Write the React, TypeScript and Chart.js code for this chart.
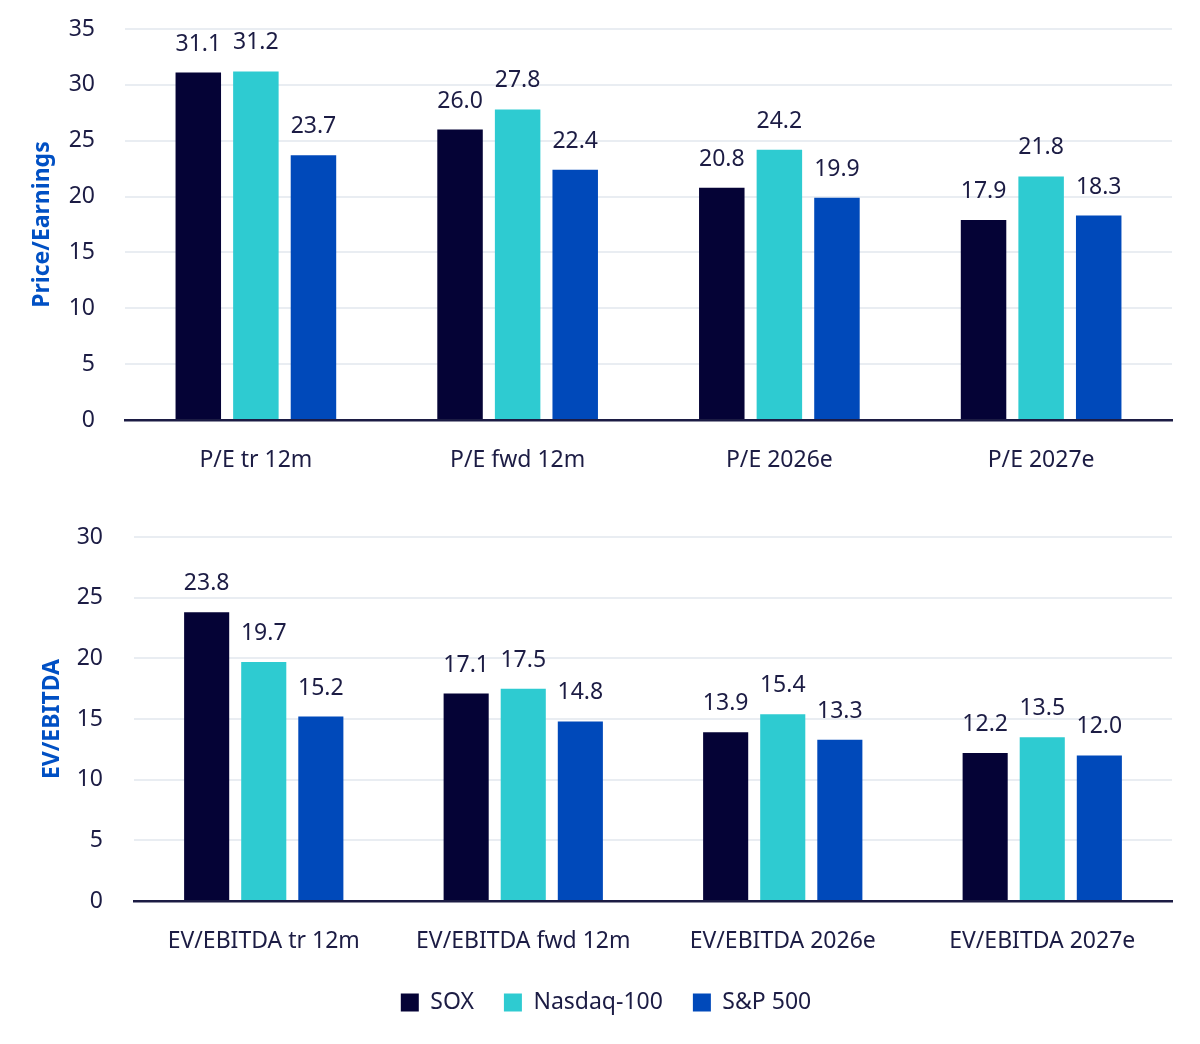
import { useEffect, useRef } from 'react'
import { Chart, registerables } from 'chart.js'

Chart.register(...registerables)

const peLabels = ['P/E tr 12m', 'P/E fwd 12m', 'P/E 2026e', 'P/E 2027e']
const evLabels = ['EV/EBITDA tr 12m', 'EV/EBITDA fwd 12m', 'EV/EBITDA 2026e', 'EV/EBITDA 2027e']

const seriesNames = ['SOX', 'Nasdaq-100', 'S&P 500']
const seriesColors = ['#050336', '#2ECBD1', '#0049BA']

const peSox = [31.1, 26.0, 20.8, 17.9]
const peNasdaq = [31.2, 27.8, 24.2, 21.8]
const peSpx = [23.7, 22.4, 19.9, 18.3]

const evSox = [23.8, 17.1, 13.9, 12.2]
const evNasdaq = [19.7, 17.5, 15.4, 13.5]
const evSpx = [15.2, 14.8, 13.3, 12.0]

const TEXT = '#1c1c44'
const FONT = '"Noto Sans", sans-serif'

const valueLabels = {
  id: 'valueLabels',
  afterDatasetsDraw(chart: any) {
    const { ctx } = chart
    ctx.save()
    ctx.font = `23px ${FONT}`
    ctx.fillStyle = TEXT
    ctx.textAlign = 'center'
    ctx.textBaseline = 'alphabetic'
    chart.data.datasets.forEach((ds: any, i: number) => {
      const meta = chart.getDatasetMeta(i)
      meta.data.forEach((bar: any, j: number) => {
        ctx.fillText(ds.data[j].toFixed(1), bar.x, bar.y - 22)
      })
    })
    ctx.restore()
  },
}

function makeConfig(
  labels: string[],
  data: number[][],
  max: number,
  title: string,
  opts: { axisWidth: number; titlePad: number; tickPad: number; padding: any; legend: boolean }
): any {
  return {
    type: 'bar',
    data: {
      labels,
      datasets: data.map((d, i) => ({
        label: seriesNames[i],
        data: d,
        backgroundColor: seriesColors[i],
        borderWidth: 0,
        categoryPercentage: 0.66,
        barPercentage: 0.79,
      })),
    },
    options: {
      animation: false,
      responsive: true,
      maintainAspectRatio: false,
      layout: { padding: opts.padding },
      scales: {
        x: {
          grid: { display: false, drawTicks: false },
          border: { display: true, color: TEXT, width: 2.5 },
          ticks: { color: TEXT, font: { family: FONT, size: 23 }, padding: 27 },
          afterFit: (scale: any) => {
            scale.height = 60
          },
        },
        y: {
          min: 0,
          max,
          ticks: { stepSize: 5, color: TEXT, font: { family: FONT, size: 23 }, padding: opts.tickPad },
          grid: { color: '#e9edf2', lineWidth: 2, drawTicks: false },
          border: { display: false },
          title: {
            display: true,
            text: title,
            color: '#0050C4',
            font: { family: FONT, size: 23, weight: 'bold' },
            padding: { top: opts.titlePad, bottom: 0 },
          },
          afterFit: (scale: any) => {
            scale.width = opts.axisWidth
            // tick padding is horizontal only; don't let it push the plot down
            scale.paddingTop = 14
            scale.paddingBottom = 14
          },
        },
      },
      plugins: {
        tooltip: { enabled: false },
        legend: {
          display: opts.legend,
          position: 'bottom',
          labels: {
            color: TEXT,
            font: { family: FONT, size: 23 },
            boxWidth: 18,
            boxHeight: 18,
            padding: 30,
          },
        },
      },
    },
    plugins: [valueLabels],
  }
}

export default function App() {
  const topRef = useRef<HTMLCanvasElement>(null)
  const bottomRef = useRef<HTMLCanvasElement>(null)

  useEffect(() => {
    const top = new Chart(
      topRef.current as any,
      makeConfig(peLabels, [peSox, peNasdaq, peSpx], 35, 'Price/Earnings', {
        axisWidth: 125,
        titlePad: 29,
        tickPad: 30,
        padding: { top: 29, right: 28, left: 0, bottom: 0 },
        legend: false,
      })
    )
    const bottom = new Chart(
      bottomRef.current as any,
      makeConfig(evLabels, [evSox, evNasdaq, evSpx], 30, 'EV/EBITDA', {
        axisWidth: 94,
        titlePad: -1,
        tickPad: 31,
        padding: { top: 57, right: 28, left: 40, bottom: 20 },
        legend: true,
      })
    )
    return () => {
      top.destroy()
      bottom.destroy()
    }
  }, [])

  return (
    <div style={{ position: 'absolute', top: 0, left: 0, width: 1200, height: 1044, background: '#fff' }}>
      <div style={{ position: 'absolute', top: 0, left: 0, width: 1200, height: 480 }}>
        <canvas ref={topRef} />
      </div>
      <div style={{ position: 'absolute', top: 480, left: 0, width: 1200, height: 564 }}>
        <canvas ref={bottomRef} />
      </div>
    </div>
  )
}
